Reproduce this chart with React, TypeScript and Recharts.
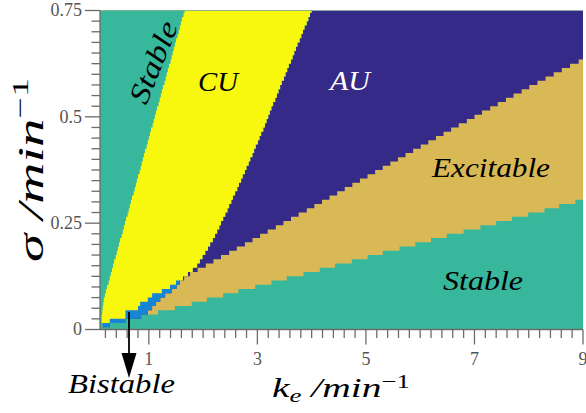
import { Area, CartesianGrid, ComposedChart, XAxis, YAxis } from "recharts";

const W = 586;
const H = 413;

// parula-like region colours
const STABLE = "#37B89D";
const CU = "#F8F80E";
const AU = "#352A87";
const EXCITABLE = "#D8B955";
const BISTABLE = "#1685D5";
const AXIS = "#6b6b6b";
const SERIF = "'Liberation Serif', 'DejaVu Serif', serif";

const X_DOMAIN: [number, number] = [0.1, 9];
const Y_DOMAIN: [number, number] = [0, 0.75];
const X_MAJOR = [1, 3, 5, 7, 9];
const Y_MAJOR = [0, 0.25, 0.5, 0.75];
const Y_LABELS: Record<string, string> = { "0": "0", "0.25": "0.25", "0.5": "0.5", "0.75": "0.75" };
// minor ticks every 0.2 on k_e and every 0.025 on sigma
const X_TICKS = Array.from({ length: 45 }, (_, i) => (i + 1) * 2 / 10);
const Y_TICKS = Array.from({ length: 31 }, (_, i) => (i * 25) / 1000);

// sigma grid (rows of the map, 0.01 apart, each row starts here)
const SIGMA_ROWS = [
  0, 0.005, 0.015, 0.025, 0.035, 0.045, 0.055, 0.065, 0.075, 0.085, 0.095,
  0.105, 0.115, 0.125, 0.135, 0.145, 0.155, 0.165, 0.175, 0.185, 0.195,
  0.205, 0.215, 0.225, 0.235, 0.245, 0.255, 0.265, 0.275, 0.285, 0.295,
  0.305, 0.315, 0.325, 0.335, 0.345, 0.355, 0.365, 0.375, 0.385, 0.395,
  0.405, 0.415, 0.425, 0.435, 0.445, 0.455, 0.465, 0.475, 0.485, 0.495,
  0.505, 0.515, 0.525, 0.535, 0.545, 0.555, 0.565, 0.575, 0.585, 0.595,
  0.605, 0.615, 0.625, 0.635, 0.645, 0.655, 0.665, 0.675, 0.685, 0.695,
  0.705, 0.715, 0.725, 0.735, 0.745, 0.75,
];

// right edge (k_e) of each region, per sigma row, read left to right
const STABLE_LEFT_EDGE = [
  0.1, 0.14, 0.13, 0.13, 0.14, 0.15, 0.16, 0.17, 0.19, 0.21,
  0.23, 0.26, 0.28, 0.30, 0.32, 0.34, 0.36, 0.39, 0.41, 0.43,
  0.45, 0.47, 0.50, 0.52, 0.54, 0.56, 0.58, 0.61, 0.63, 0.65,
  0.67, 0.69, 0.72, 0.74, 0.76, 0.78, 0.80, 0.83, 0.85, 0.87,
  0.89, 0.91, 0.93, 0.96, 0.98, 1.00, 1.02, 1.04, 1.07, 1.09,
  1.11, 1.13, 1.15, 1.18, 1.20, 1.22, 1.24, 1.26, 1.29, 1.31,
  1.33, 1.35, 1.37, 1.40, 1.42, 1.44, 1.46, 1.48, 1.50, 1.53,
  1.55, 1.57, 1.59, 1.61, 1.64, 1.66,
];

const CU_EDGE = [
  0.1, 0.14, 0.28, 0.57, 0.57, 0.80, 0.84, 0.98, 1.06, 1.24,
  1.39, 1.50, 1.63, 1.72, 1.81, 1.89, 1.94, 1.99, 2.04, 2.09,
  2.13, 2.18, 2.22, 2.26, 2.30, 2.33, 2.37, 2.41, 2.45, 2.48,
  2.52, 2.55, 2.59, 2.63, 2.66, 2.70, 2.73, 2.77, 2.80, 2.84,
  2.87, 2.91, 2.94, 2.97, 3.01, 3.04, 3.07, 3.11, 3.14, 3.17,
  3.20, 3.23, 3.26, 3.29, 3.33, 3.36, 3.39, 3.42, 3.45, 3.49,
  3.52, 3.55, 3.58, 3.62, 3.65, 3.68, 3.71, 3.74, 3.78, 3.81,
  3.84, 3.87, 3.91, 3.94, 3.97, 4.00,
];

const BISTABLE_EDGE = [
  0.1, 0.28, 0.57, 0.86, 0.98, 1.06, 1.13, 1.21, 1.30, 1.42,
  1.51, 1.57, 1.63, 1.72, 1.81, 1.89, 1.94, 1.99, 2.04, 2.09,
  2.13, 2.18, 2.22, 2.26, 2.30, 2.33, 2.37, 2.41, 2.45, 2.48,
  2.52, 2.55, 2.59, 2.63, 2.66, 2.70, 2.73, 2.77, 2.80, 2.84,
  2.87, 2.91, 2.94, 2.97, 3.01, 3.04, 3.07, 3.11, 3.14, 3.17,
  3.20, 3.23, 3.26, 3.29, 3.33, 3.36, 3.39, 3.42, 3.45, 3.49,
  3.52, 3.55, 3.58, 3.62, 3.65, 3.68, 3.71, 3.74, 3.78, 3.81,
  3.84, 3.87, 3.91, 3.94, 3.97, 4.00,
];

const AU_EDGE = [
  0.1, 0.28, 0.57, 0.86, 0.98, 1.06, 1.13, 1.21, 1.30, 1.42,
  1.51, 1.57, 1.65, 1.76, 1.90, 2.05, 2.19, 2.33, 2.48, 2.62,
  2.77, 2.91, 3.05, 3.19, 3.34, 3.48, 3.62, 3.76, 3.91, 4.05,
  4.19, 4.33, 4.47, 4.61, 4.75, 4.89, 5.03, 5.17, 5.31, 5.45,
  5.59, 5.73, 5.87, 6.01, 6.15, 6.29, 6.43, 6.57, 6.71, 6.86,
  7.00, 7.14, 7.29, 7.43, 7.58, 7.72, 7.87, 8.01, 8.16, 8.31,
  8.46, 8.61, 8.76, 8.92, 9, 9, 9, 9, 9, 9,
  9, 9, 9, 9, 9, 9,
];

const EXCITABLE_EDGE = [
  0.1, 0.28, 0.57, 0.86, 1.17, 1.48, 1.79, 2.07, 2.37, 2.65,
  2.96, 3.26, 3.54, 3.85, 4.15, 4.43, 4.74, 5.03, 5.31, 5.62,
  5.91, 6.20, 6.49, 6.80, 7.11, 7.40, 7.69, 7.99, 8.29, 8.56,
  8.86, 9, 9, 9, 9, 9, 9, 9, 9, 9,
  9, 9, 9, 9, 9, 9, 9, 9, 9, 9,
  9, 9, 9, 9, 9, 9, 9, 9, 9, 9,
  9, 9, 9, 9, 9, 9, 9, 9, 9, 9,
  9, 9, 9, 9, 9, 9,
];

// last sigma point only closes the top row, so it repeats the last row's edges
const pick = (arr: number[], i: number) => arr[Math.min(i, arr.length - 1)];
const rows = SIGMA_ROWS.map((sigma, i) => ({
  sigma,
  stableLeft: pick(STABLE_LEFT_EDGE, i),
  cu: pick(CU_EDGE, i),
  bistable: pick(BISTABLE_EDGE, i),
  au: pick(AU_EDGE, i),
  excitable: pick(EXCITABLE_EDGE, i),
}));

const isMajor = (list: number[], v: number) => list.some((m) => Math.abs(m - v) < 1e-9);

function XTick({ x, y, payload }: any) {
  const major = isMajor(X_MAJOR, payload.value);
  return (
    <g>
      <line x1={x} x2={x} y1={y} y2={y + (major ? 15 : 8.5)} stroke={AXIS} strokeWidth={1.3} />
      {major && (
        <text x={x} y={y + 35} textAnchor="middle" style={{ fontFamily: SERIF }} fontSize={18} fill="#555">
          {String(Math.round(payload.value))}
        </text>
      )}
    </g>
  );
}

function YTick({ x, y, payload }: any) {
  const major = isMajor(Y_MAJOR, payload.value);
  return (
    <g>
      <line x1={x - (major ? 15 : 8.5)} x2={x} y1={y} y2={y} stroke={AXIS} strokeWidth={1.3} />
      {major && (
        <text x={x - 18} y={y} dy="0.33em" textAnchor="end" style={{ fontFamily: SERIF }} fontSize={18} fill="#555">
          {Y_LABELS[String(payload.value)]}
        </text>
      )}
    </g>
  );
}

const region = (key: string, color: string) => (
  <Area
    key={key}
    dataKey={key}
    type="stepBefore"
    baseValue={X_DOMAIN[0]}
    fill={color}
    fillOpacity={1}
    stroke="none"
    dot={false}
    activeDot={false}
    isAnimationActive={false}
  />
);

export default function App() {
  return (
    <div style={{ position: "absolute", left: 0, top: 0, width: W, height: H, background: "#fff" }}>
      <ComposedChart
        width={W}
        height={H}
        data={rows}
        layout="vertical"
        margin={{ top: 10.5, right: 3, bottom: 53.5, left: 0 }}
      >
        <CartesianGrid horizontal={false} vertical={false} fill={STABLE} stroke="none" />
        <XAxis
          type="number"
          domain={X_DOMAIN}
          allowDataOverflow
          ticks={X_TICKS}
          interval={0}
          height={30}
          tickSize={0}
          tickMargin={0}
          tickLine={false}
          axisLine={{ stroke: AXIS, strokeWidth: 1.3 }}
          tick={<XTick />}
        />
        <YAxis
          type="number"
          dataKey="sigma"
          domain={Y_DOMAIN}
          reversed
          allowDataOverflow
          ticks={Y_TICKS}
          interval={0}
          width={100}
          tickSize={0}
          tickMargin={0}
          tickLine={false}
          axisLine={{ stroke: AXIS, strokeWidth: 1.3 }}
          tick={<YTick />}
        />
        {/* painted right-most region first, each next one covers from the left edge */}
        {region("excitable", EXCITABLE)}
        {region("au", AU)}
        {region("bistable", BISTABLE)}
        {region("cu", CU)}
        {region("stableLeft", STABLE)}
      </ComposedChart>

      <svg
        width={W}
        height={H}
        style={{ position: "absolute", left: 0, top: 0, pointerEvents: "none", fontFamily: SERIF }}
      >
        <text
          transform="translate(153,62) rotate(-68)"
          textAnchor="middle"
          dy="0.35em"
          fontSize={29}
          fontStyle="italic"
          textLength={86}
          lengthAdjust="spacingAndGlyphs"
        >
          Stable
        </text>
        <text x={198} y={91} fontSize={28} fontStyle="italic" textLength={40} lengthAdjust="spacingAndGlyphs">
          CU
        </text>
        <text x={330} y={90} fontSize={28} fontStyle="italic" fill="#fff" textLength={40} lengthAdjust="spacingAndGlyphs">
          AU
        </text>
        <text x={432} y={177} fontSize={28} fontStyle="italic" textLength={118} lengthAdjust="spacingAndGlyphs">
          Excitable
        </text>
        <text x={443} y={290} fontSize={28} fontStyle="italic" textLength={80} lengthAdjust="spacingAndGlyphs">
          Stable
        </text>
        <text x={68} y={393} fontSize={27} fontStyle="italic" textLength={107} lengthAdjust="spacingAndGlyphs">
          Bistable
        </text>

        <line x1={129} y1={312} x2={129} y2={356} stroke="#000" strokeWidth={1.8} />
        <polygon points="121.5,353 136.5,353 129,378" fill="#000" />

        <text x={272} y={397} fontSize={28} fontStyle="italic" textLength={138} lengthAdjust="spacingAndGlyphs">
          k
          <tspan dy={5} fontSize={19}>e</tspan>
          <tspan dy={-5}>{" /min"}</tspan>
          <tspan dy={-9} fontSize={19} fontStyle="normal">−1</tspan>
        </text>

        <text
          transform="translate(43,262) rotate(-90)"
          fontSize={36}
          fontStyle="italic"
          textLength={184}
          lengthAdjust="spacingAndGlyphs"
        >
          σ
          <tspan>{" /min"}</tspan>
          <tspan dy={-15} fontSize={24} fontStyle="normal">−1</tspan>
        </text>
      </svg>
    </div>
  );
}
